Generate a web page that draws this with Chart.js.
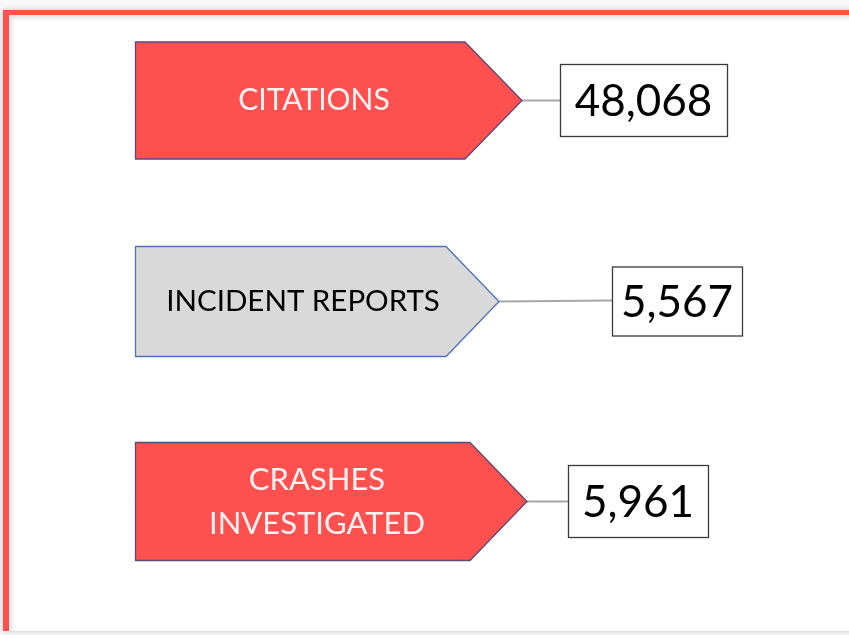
<!DOCTYPE html>
<html>
<head>
<meta charset="utf-8">
<script src="https://cdn.jsdelivr.net/npm/chart.js@4/dist/chart.umd.min.js"></script>
<style>
  html, body { margin: 0; padding: 0; background: #f4f4f4; }
  #wrap { position: relative; width: 849px; height: 635px; overflow: hidden; background: #f7f7f7; }
  #frame { position: absolute; left: 3px; top: 10px; width: 900px; height: 616px;
           background: #ffffff; border-top: 5px solid #FF5050; border-left: 6px solid #FF5050;
           box-shadow: 0 0 5px rgba(0,0,0,0.22), inset 3px 3px 5px rgba(0,0,0,0.12); }
  #c { position: absolute; left: 0; top: 0; }
</style>
</head>
<body>
<div id="wrap">
  <div id="frame"></div>
  <canvas id="c" width="849" height="635"></canvas>
</div>
<script>
// ---- data ----
const categories = ["CITATIONS", "INCIDENT REPORTS", "CRASHES INVESTIGATED"];
const labelLines = [["CITATIONS"], ["INCIDENT REPORTS"], ["CRASHES", "INVESTIGATED"]];
const values = [48068, 5567, 5961];

// ---- styles (layout only) ----
const shapeFill   = ["#FF5050", "#D9D9D9", "#FF5050"];
const shapeStroke = ["#5A4A78", "#4F72B8", "#5A4A78"];
const textColor   = ["#FFF2F2", "#000000", "#FFF2F2"];
const labelSize   = [30, 29.5, 31];
const shapeLeft   = [135, 135, 135];
const bodyRight   = [465, 446, 470];
const tipX        = [522, 499, 527];
const halfH       = [58.5, 55, 59];
const boxLeft     = [560, 612, 568];
const boxWidth    = [167, 130, 140];
const boxHalfH    = [36, 34.5, 36];

const fmt = v => v.toLocaleString("en-US");

const infoPlugin = {
  id: "infographic",
  afterDatasetsDraw(chart) {
    const ctx = chart.ctx;
    const ys = chart.scales.y;
    categories.forEach((cat, i) => {
      const cy = Math.round(ys.getPixelForValue(i)) + 0.5;
      const top = cy - halfH[i], bot = cy + halfH[i];
      ctx.save();
      // connector
      ctx.strokeStyle = "#A6A6A6";
      ctx.lineWidth = 2;
      ctx.beginPath();
      ctx.moveTo(tipX[i], cy);
      ctx.lineTo(boxLeft[i], cy - (i === 1 ? 1 : 0));
      ctx.stroke();
      // pentagon
      ctx.beginPath();
      ctx.moveTo(shapeLeft[i] + 0.5, top);
      ctx.lineTo(bodyRight[i], top);
      ctx.lineTo(tipX[i], cy);
      ctx.lineTo(bodyRight[i], bot);
      ctx.lineTo(shapeLeft[i] + 0.5, bot);
      ctx.closePath();
      ctx.fillStyle = shapeFill[i];
      ctx.fill();
      ctx.strokeStyle = shapeStroke[i];
      ctx.lineWidth = 1.3;
      ctx.stroke();
      // label text
      ctx.fillStyle = textColor[i];
      ctx.font = labelSize[i] + "px Lato, 'Open Sans', sans-serif";
      ctx.textAlign = "center";
      ctx.textBaseline = "middle";
      const lines = labelLines[i];
      const cx = i === 1 ? 303 : (i === 0 ? 314 : 317);
      const lh = 44;
      lines.forEach((ln, k) => {
        ctx.fillText(ln, cx, cy + (k - (lines.length - 1) / 2) * lh);
      });
      // value box
      const bt = cy - boxHalfH[i];
      ctx.fillStyle = "#FFFFFF";
      ctx.fillRect(boxLeft[i], bt, boxWidth[i], boxHalfH[i] * 2);
      ctx.strokeStyle = "#3A3A3A";
      ctx.lineWidth = 1.3;
      ctx.strokeRect(boxLeft[i] + 0.5, bt, boxWidth[i], boxHalfH[i] * 2);
      ctx.fillStyle = "#000000";
      ctx.font = "44px Lato, 'Open Sans', sans-serif";
      ctx.fillText(fmt(values[i]), boxLeft[i] + boxWidth[i] / 2, cy + 1);
      ctx.restore();
    });
  }
};

new Chart(document.getElementById("c"), {
  type: "bar",
  data: {
    labels: categories,
    datasets: [{ data: values, backgroundColor: "rgba(0,0,0,0)", borderWidth: 0 }]
  },
  options: {
    indexAxis: "y",
    responsive: false,
    animation: false,
    layout: { padding: { top: 0, bottom: 34, left: 0, right: 0 } },
    plugins: { legend: { display: false }, tooltip: { enabled: false } },
    scales: {
      x: { display: false, beginAtZero: true },
      y: { display: false }
    }
  },
  plugins: [infoPlugin]
});
</script>
</body>
</html>
